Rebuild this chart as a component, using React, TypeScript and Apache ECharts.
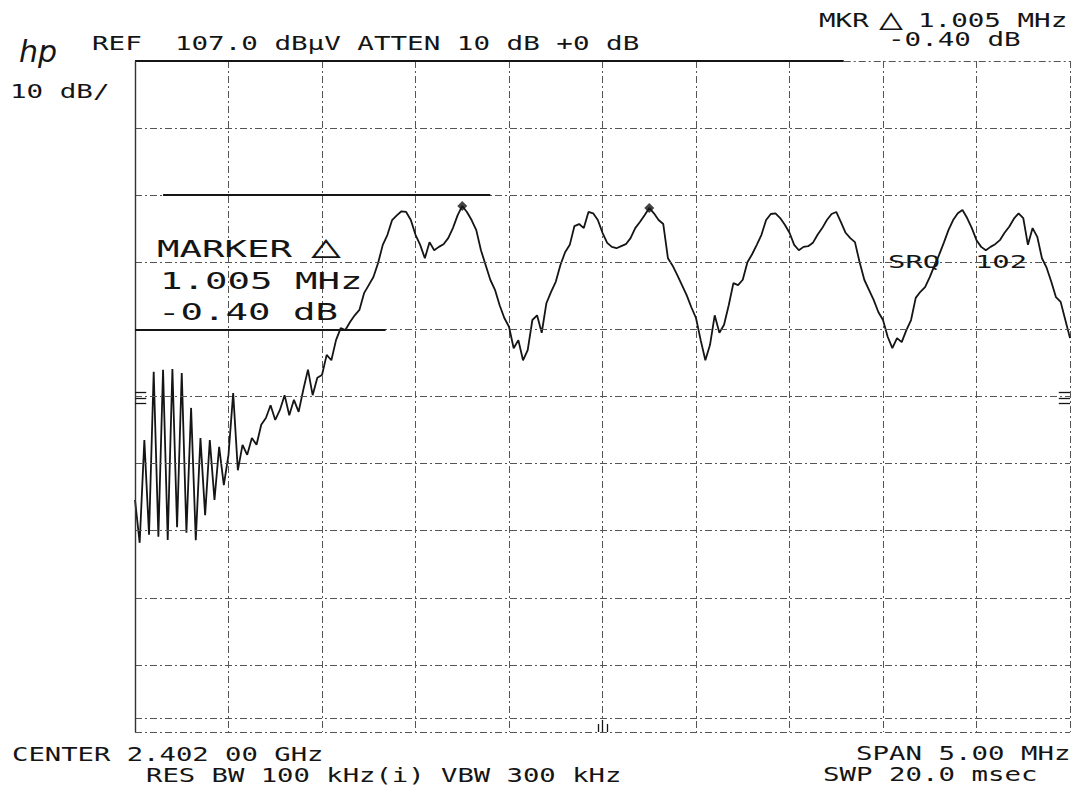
import React, { useEffect, useRef } from "react";
import * as echarts from "echarts";

// ---- sweep / scale settings ----
const START_MHZ = 2399.5; // CENTER 2.402 00 GHz, SPAN 5.00 MHz
const STOP_MHZ = 2404.5;
const STEP_MHZ = 0.025; // trace sample spacing
const REF_LEVEL = 107; // REF 107.0 dBuV
const BOTTOM_LEVEL = 7; // 10 dB/div, 10 divisions
const xDivMHz = 0.5;
const yGridLevels = [17, 27, 37, 47, 57, 67, 77, 87, 97];
const lowerDisplayLine = 9.1;

// ---- trace levels (dBuV), one per sweep sample ----
const traceLevels = [
  41.6, 35.2, 50.5, 36.4, 60.7, 36.1, 61.0, 35.6, 61.1, 37.5,
  60.5, 36.7, 55.3, 35.6, 50.8, 39.3, 50.5, 41.6, 49.5, 43.8,
  48.3, 57.5, 46.0, 49.8, 48.3, 50.8, 49.8, 52.8, 53.8, 55.7,
  53.5, 55.0, 57.2, 54.2, 56.5, 54.7, 58.0, 61.0, 57.2, 59.8,
  60.2, 63.2, 62.4, 65.4, 67.2, 66.9, 68.1, 69.1, 69.9, 72.4,
  73.6, 74.8, 76.9, 79.6, 81.1, 83.3, 84.0, 84.6, 84.5, 83.3,
  81.1, 79.6, 77.6, 80.0, 78.8, 79.3, 79.7, 80.6, 82.1, 84.0,
  85.4, 84.5, 83.3, 81.8, 78.8, 76.6, 74.4, 72.9, 70.6, 68.7,
  67.4, 64.2, 65.4, 62.4, 63.9, 68.4, 69.1, 66.5, 70.9, 72.6,
  74.1, 76.6, 78.5, 79.6, 82.4, 82.7, 82.1, 84.5, 84.3, 83.3,
  81.4, 79.9, 79.3, 79.1, 79.4, 79.7, 80.6, 82.1, 83.0, 84.0,
  85.1, 84.3, 83.3, 82.7, 77.6, 76.5, 75.1, 73.6, 72.1, 70.3,
  68.7, 65.4, 62.4, 64.7, 69.1, 66.5, 67.7, 70.6, 73.9, 73.6,
  74.4, 77.0, 78.2, 79.6, 81.1, 83.3, 84.2, 84.3, 83.6, 82.6,
  81.4, 79.6, 78.8, 79.3, 79.4, 79.9, 81.1, 82.1, 83.3, 84.2,
  84.5, 83.0, 81.4, 80.6, 80.0, 77.0, 74.4, 72.9, 71.4, 69.6,
  68.4, 65.9, 64.2, 65.7, 65.1, 66.9, 68.4, 71.7, 72.6, 73.3,
  74.8, 76.5, 78.1, 79.9, 81.8, 83.3, 84.3, 84.8, 83.6, 82.1,
  80.3, 79.3, 78.8, 79.3, 79.7, 80.3, 81.4, 82.3, 83.5, 84.3,
  83.6, 79.6, 82.1, 80.8, 77.6, 76.2, 74.1, 71.8, 71.1, 68.4,
  65.7,
];
const markerIndices = [70, 110];

// ---- annotation texts ----
const headerLine = "REF  107.0 dB\u00b5V ATTEN 10 dB +0 dB";
const scaleLabel = "10 dB/";
const mkrWord = "MKR";
const deltaSign = "\u25b3";
const mkrFreq = "1.005 MHz";
const mkrLevel = "-0.40 dB";
const centerLabel = "CENTER 2.402 00 GHz";
const bwLabel = "RES BW 100 kHz(i) VBW 300 kHz";
const spanLabel = "SPAN 5.00 MHz";
const sweepLabel = "SWP 20.0 msec";
const markerWord = "MARKER";
const srqLabel = "SRQ  102";

const MONO = '"DejaVu Sans Mono", "Liberation Mono", monospace';
const INK = "#151515";

function monoText(text: string, x: number, y: number, size: number, pitch: number) {
  return {
    type: "text",
    x,
    y,
    scaleX: pitch / (0.602 * size),
    silent: true,
    z: 10,
    style: {
      text,
      fill: INK,
      font: `normal ${size}px ${MONO}`,
      textAlign: "left",
      verticalAlign: "middle",
      textVerticalAlign: "middle",
    },
  };
}

export default function App() {
  const ref = useRef<HTMLDivElement>(null);

  useEffect(() => {
    if (!ref.current) return;
    const chart = echarts.init(ref.current, undefined, { renderer: "svg" });

    const freqs = traceLevels.map((_, i) => START_MHZ + i * STEP_MHZ);
    const trace = traceLevels.map((v, i) => [freqs[i], v]);
    const markers = markerIndices.map((i) => [freqs[i], traceLevels[i]]);

    const dash = { color: "#555", width: 1, type: [7, 3, 2, 3] as any };
    const solid = { color: INK, width: 2, type: "solid" };

    const gridLines: any[] = yGridLevels.map((v) => ({ yAxis: v, lineStyle: dash }));
    gridLines.push({ yAxis: lowerDisplayLine, lineStyle: dash });
    gridLines.push({ yAxis: BOTTOM_LEVEL, lineStyle: dash });
    // top border: solid part then dashed
    gridLines.push([
      { coord: [START_MHZ, REF_LEVEL], lineStyle: solid },
      { coord: [2403.29, REF_LEVEL] },
    ]);
    gridLines.push([
      { coord: [2403.29, REF_LEVEL], lineStyle: dash },
      { coord: [STOP_MHZ, REF_LEVEL] },
    ]);
    // left border
    gridLines.push([
      { coord: [START_MHZ, BOTTOM_LEVEL], lineStyle: { color: "#333", width: 1.4, type: "solid" } },
      { coord: [START_MHZ, REF_LEVEL] },
    ]);
    // marker readout box lines
    gridLines.push([
      { coord: [2399.65, 87], lineStyle: solid },
      { coord: [2401.4, 87] },
    ]);
    gridLines.push([
      { coord: [START_MHZ, 67], lineStyle: solid },
      { coord: [2400.84, 67] },
    ]);
    // reference tick marks at the left / right edges
    [57.6, 56.8, 56.0].forEach((lv) => {
      gridLines.push([
        { coord: [START_MHZ, lv], lineStyle: { color: INK, width: 1.3, type: "solid" } },
        { coord: [START_MHZ + 0.06, lv] },
      ]);
      gridLines.push([
        { coord: [STOP_MHZ - 0.06, lv], lineStyle: { color: INK, width: 1.3, type: "solid" } },
        { coord: [STOP_MHZ, lv] },
      ]);
    });
    // small centre ticks at the bottom
    [
      [2401.975, 8.2],
      [2402.0, 8.8],
      [2402.025, 8.2],
    ].forEach(([f, top]) => {
      gridLines.push([
        { coord: [f, BOTTOM_LEVEL], lineStyle: { color: INK, width: 1.3, type: "solid" } },
        { coord: [f, top] },
      ]);
    });

    const graphics: any[] = [
      {
        type: "text",
        x: 19,
        y: 51,
        silent: true,
        style: {
          text: "hp",
          fill: INK,
          font: 'italic normal 30px "DejaVu Sans"',
          textAlign: "left",
          verticalAlign: "middle",
          textVerticalAlign: "middle",
        },
      },
      monoText(headerLine, 92, 44, 19, 16.6),
      monoText(scaleLabel, 10, 92, 19, 16.6),
      monoText(mkrWord, 819, 21, 19, 16.6),
      monoText(deltaSign, 879, 18, 30, 24),
      monoText(mkrFreq, 918, 21, 19, 16.6),
      monoText(mkrLevel, 888, 40, 19, 16.6),
      monoText(centerLabel, 12, 755, 19, 16.4),
      monoText(bwLabel, 146, 776, 19, 16.4),
      monoText(spanLabel, 856, 754, 19, 16.5),
      monoText(sweepLabel, 823, 775, 19, 16.5),
      monoText(markerWord, 157, 249, 23, 22.5),
      monoText(deltaSign, 311, 246, 32, 30),
      monoText(mkrFreq, 160, 281, 23, 22.5),
      monoText(mkrLevel, 158, 312, 23, 22.5),
      monoText(srqLabel, 888, 262, 18, 17.4),
    ];

    chart.setOption({
      animation: false,
      backgroundColor: "#ffffff",
      grid: { left: 135, top: 61, width: 935, height: 671, containLabel: false },
      xAxis: {
        type: "value",
        min: START_MHZ,
        max: STOP_MHZ,
        interval: xDivMHz,
        axisLine: { show: false },
        axisTick: { show: false },
        axisLabel: { show: false },
        splitLine: { show: true, lineStyle: dash },
      },
      yAxis: {
        type: "value",
        min: BOTTOM_LEVEL,
        max: REF_LEVEL,
        axisLine: { show: false },
        axisTick: { show: false },
        axisLabel: { show: false },
        splitLine: { show: false },
      },
      graphic: graphics,
      series: [
        {
          type: "scatter",
          data: markers,
          symbol: "diamond",
          symbolSize: 10,
          itemStyle: { color: INK },
          z: 4,
          silent: true,
          markLine: {
            silent: true,
            symbol: ["none", "none"],
            label: { show: false },
            data: gridLines,
          },
        },
        {
          type: "line",
          data: trace,
          showSymbol: false,
          symbol: "none",
          lineStyle: { color: INK, width: 1.8 },
          z: 3,
          silent: true,
        },
      ],
    });

    return () => chart.dispose();
  }, []);

  return (
    <div
      ref={ref}
      style={{ position: "fixed", left: 0, top: 0, width: 1076, height: 789, background: "#fff" }}
    />
  );
}
